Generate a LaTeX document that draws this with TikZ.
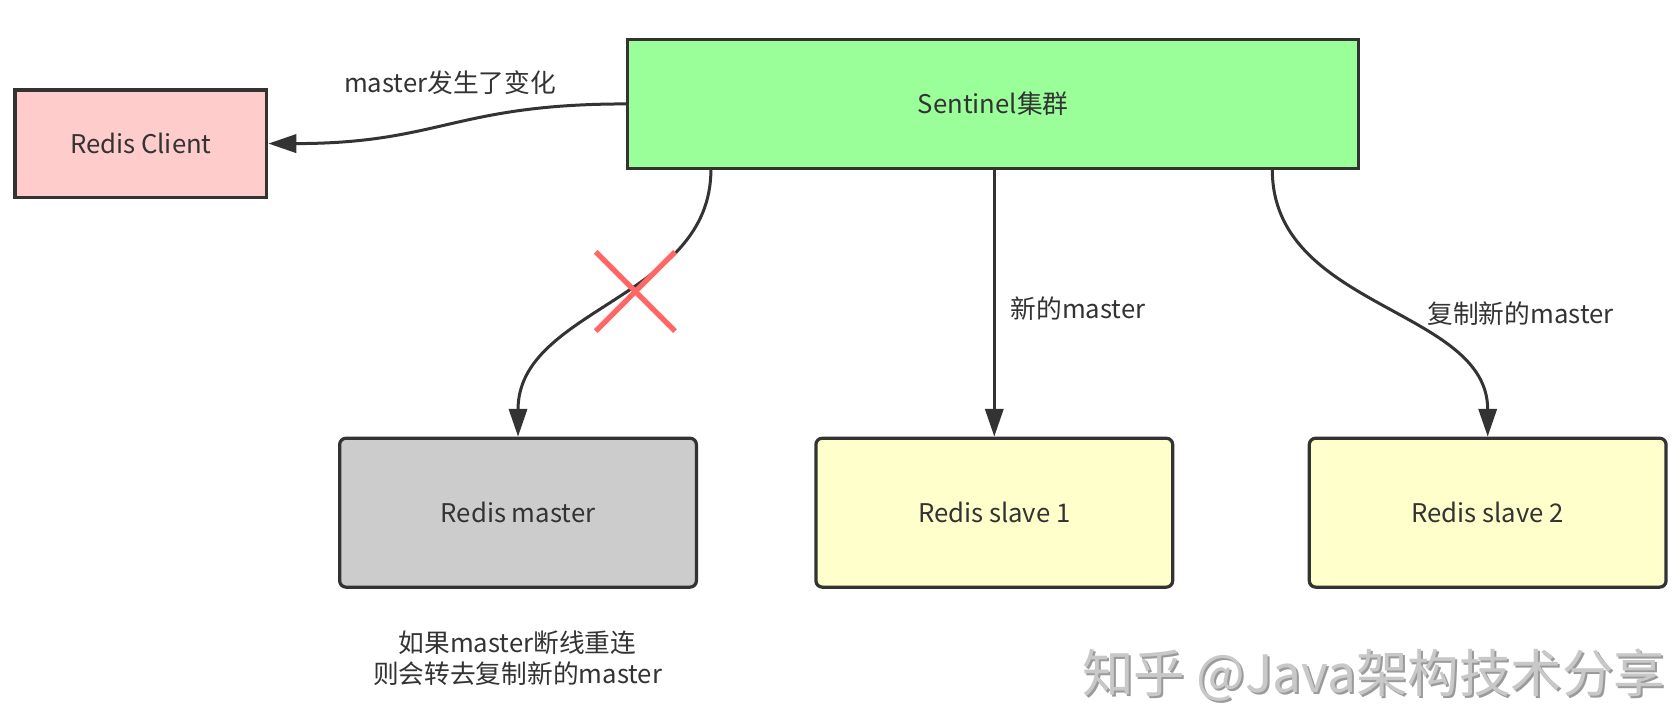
\documentclass[tikz,border=0pt]{standalone}
\usepackage{fontspec}
\setmainfont{Noto Sans CJK SC}
\usetikzlibrary{arrows.meta,calc}
\definecolor{edgec}{HTML}{333333}
\definecolor{txtc}{HTML}{333333}
\definecolor{sentfill}{HTML}{9AFF99}
\definecolor{clientfill}{HTML}{FFCCCC}
\definecolor{masterfill}{HTML}{CCCCCC}
\definecolor{slavefill}{HTML}{FFFFCC}
\definecolor{crossc}{HTML}{FF6666}
\definecolor{wmc}{HTML}{C8C8C8}
\definecolor{wmshadow}{HTML}{9A9A9A}
\tikzset{
  box/.style={draw=edgec, line width=3pt, inner sep=0pt, text=txtc, font=\fontsize{24}{28}\selectfont},
  rbox/.style={box, rounded corners=6pt, minimum width=333pt, minimum height=139pt},
  arr/.style={draw=edgec, line width=2.8pt, -{Triangle[length=26pt,width=17pt]}},
  lbl/.style={text=txtc, font=\fontsize{24}{29}\selectfont, inner sep=0pt},
  crossline/.style={draw=crossc, line width=5pt},
  wm/.style={font=\fontsize{48}{52}\selectfont, inner sep=0pt}
}
\begin{document}
\begin{tikzpicture}[x=1pt,y=-1pt]
\useasboundingbox[fill=white] (0,0) rectangle (1568,665);
\node[box, fill=sentfill, minimum width=682pt, minimum height=120pt] (sent) at (927,97) {Sentinel集群};
\node[box, fill=clientfill, minimum width=235pt, minimum height=100pt] (client) at (131.5,134) {Redis Client};
\node[rbox, fill=masterfill] (master) at (483.5,478.5) {Redis master};
\node[rbox, fill=slavefill] (slave1) at (928,478.5) {Redis slave 1};
\node[rbox, fill=slavefill] (slave2) at (1388.5,478.5) {Redis slave 2};

\coordinate (mstart) at ($(sent.south west)+(79,0)$);
\coordinate (s2start) at ($(sent.south east)+(-82,0)$);

\draw[arr] (sent.west) .. controls +(-160,0) and +(160,0) .. (client.east);
\draw[arr] (mstart) .. controls +(0,120) and +(0,-120) .. (master.north);
\draw[arr] (sent.south -| slave1.north) -- (slave1.north);
\draw[arr] (s2start) .. controls +(0,130) and +(0,-120) .. (slave2.north);

\coordinate (xc) at (593,272);
\draw[crossline] ($(xc)+(-37,-37)$) -- ($(xc)+(37,37)$);
\draw[crossline] ($(xc)+(-37,37)$) -- ($(xc)+(37,-37)$);

\node[lbl] (l1) at (420,77) {master发生了变化};
\node[lbl, anchor=west] (l2) at (943,288) {新的master};
\node[lbl, anchor=west] (l3) at (1332,293) {复制新的master};
\node[lbl, align=center] (l4) at (483,614) {如果master断线重连\\则会转去复制新的master};

\node[wm, text=wmshadow] (wms) at (1284,632) {知乎 @Java架构技术分享};
\node[wm, text=wmc] (wmt) at (1282,630) {知乎 @Java架构技术分享};
\end{tikzpicture}
\end{document}
